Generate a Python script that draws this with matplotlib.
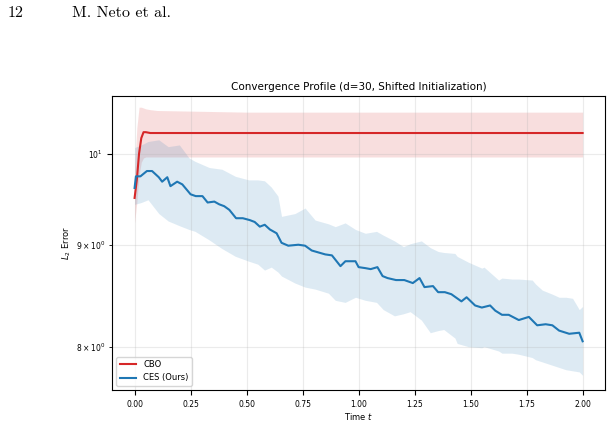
import matplotlib
matplotlib.use('Agg')
import matplotlib.pyplot as plt
import numpy as np

# values (t, L2 error)
cbo_t = [0.0, 0.01, 0.02, 0.03, 0.04, 0.05, 0.07, 0.1, 0.5, 1.0, 1.5, 2.0]
cbo_mean = [9.50, 9.70, 10.00, 10.18, 10.25, 10.25, 10.24, 10.24, 10.24, 10.24, 10.24, 10.24]
cbo_upper = [9.80, 10.30, 10.55, 10.55, 10.54, 10.53, 10.52, 10.51, 10.49, 10.49, 10.49, 10.49]
cbo_lower = [9.23, 9.45, 9.75, 9.90, 9.95, 9.96, 9.96, 9.96, 9.96, 9.96, 9.96, 9.96]

ces_t = [0.0, 0.006, 0.026, 0.055, 0.078, 0.108, 0.123, 0.146, 0.16, 0.19, 0.213,
         0.25, 0.273, 0.303, 0.326, 0.356, 0.378, 0.40, 0.423, 0.453, 0.483, 0.514,
         0.536, 0.559, 0.581, 0.604, 0.634, 0.656, 0.686, 0.731, 0.761, 0.791, 0.821,
         0.851, 0.881, 0.919, 0.941, 0.986, 1.0, 1.03, 1.054, 1.084, 1.107, 1.129,
         1.167, 1.204, 1.242, 1.272, 1.294, 1.332, 1.355, 1.385, 1.414, 1.459, 1.482,
         1.52, 1.55, 1.587, 1.61, 1.64, 1.67, 1.715, 1.76, 1.797, 1.835, 1.865,
         1.895, 1.94, 1.985, 2.0]
ces_mean = [9.61, 9.74, 9.74, 9.80, 9.80, 9.73, 9.68, 9.73, 9.63, 9.68, 9.65,
            9.54, 9.52, 9.52, 9.45, 9.46, 9.43, 9.41, 9.37, 9.28, 9.28, 9.26,
            9.24, 9.19, 9.21, 9.16, 9.12, 9.02, 8.99, 9.00, 8.99, 8.94, 8.92,
            8.90, 8.89, 8.78, 8.83, 8.83, 8.77, 8.76, 8.75, 8.77, 8.68, 8.66,
            8.64, 8.64, 8.61, 8.66, 8.57, 8.58, 8.52, 8.52, 8.50, 8.43, 8.47,
            8.39, 8.37, 8.39, 8.34, 8.30, 8.30, 8.25, 8.28, 8.20, 8.21, 8.20,
            8.15, 8.12, 8.13, 8.05]

ces_band_t = [0.0, 0.03, 0.06, 0.108, 0.15, 0.2, 0.243, 0.27, 0.333, 0.39, 0.45,
              0.51, 0.55, 0.58, 0.61, 0.64, 0.656, 0.716, 0.761, 0.806, 0.865,
              0.896, 0.94, 0.986, 1.03, 1.08, 1.11, 1.16, 1.2, 1.23, 1.28, 1.32,
              1.355, 1.38, 1.43, 1.44, 1.49, 1.55, 1.56, 1.625, 1.64, 1.685, 1.715,
              1.775, 1.79, 1.82, 1.865, 1.895, 1.925, 1.955, 1.985, 2.0]
ces_upper = [10.07, 10.10, 10.14, 10.16, 10.08, 10.10, 9.95, 9.91, 9.84, 9.82, 9.74,
             9.70, 9.70, 9.69, 9.62, 9.52, 9.30, 9.33, 9.39, 9.26, 9.22,
             9.19, 9.23, 9.16, 9.12, 9.14, 9.10, 9.04, 8.98, 9.01, 9.04, 8.97,
             8.93, 8.92, 8.91, 8.88, 8.82, 8.76, 8.77, 8.64, 8.66, 8.65, 8.65,
             8.64, 8.60, 8.54, 8.50, 8.47, 8.47, 8.46, 8.35, 8.38]
ces_lower = [9.43, 9.45, 9.48, 9.33, 9.25, 9.20, 9.16, 9.14, 9.05, 8.96, 8.88,
             8.83, 8.80, 8.74, 8.77, 8.72, 8.68, 8.61, 8.57, 8.55, 8.51,
             8.44, 8.42, 8.47, 8.44, 8.42, 8.35, 8.29, 8.31, 8.33, 8.25, 8.13,
             8.15, 8.16, 8.08, 8.03, 8.00, 7.99, 8.00, 7.96, 7.94, 7.94, 7.93,
             7.90, 7.88, 7.86, 7.83, 7.81, 7.79, 7.78, 7.77, 7.74]

fig = plt.figure(figsize=(6.13, 4.22), dpi=100)
ax = fig.add_axes([0.183, 0.076, 0.804, 0.697])

red = '#d62728'
blue = '#1f77b4'
ax.fill_between(cbo_t, cbo_lower, cbo_upper, color=red, alpha=0.15, linewidth=0)
ax.fill_between(ces_band_t, ces_lower, ces_upper, color=blue, alpha=0.15, linewidth=0)
ax.plot(cbo_t, cbo_mean, color=red, lw=1.5, label='CBO')
ax.plot(ces_t, ces_mean, color=blue, lw=1.5, label='CES (Ours)')

ax.set_yscale('log')
ax.set_ylim(7.61, 10.69)
ax.set_xlim(-0.1, 2.1)
ax.set_xticks(np.arange(0, 2.01, 0.25))
ax.grid(True, which='both', alpha=0.25)
ax.tick_params(labelsize=5.5, which='both')
ax.set_title('Convergence Profile (d=30, Shifted Initialization)', fontsize=7.5, pad=4)
ax.set_xlabel('Time $t$', fontsize=6, labelpad=2)
ax.set_ylabel('$L_2$ Error', fontsize=6, labelpad=2)
ax.legend(loc='lower left', fontsize=6)

fig.text(0.013, 0.96, '12', family='cmr10', fontsize=11.5)
fig.text(0.117, 0.96, 'M. Neto et al.', family='cmr10', fontsize=11.5)

fig.savefig('out.png', dpi=100)
